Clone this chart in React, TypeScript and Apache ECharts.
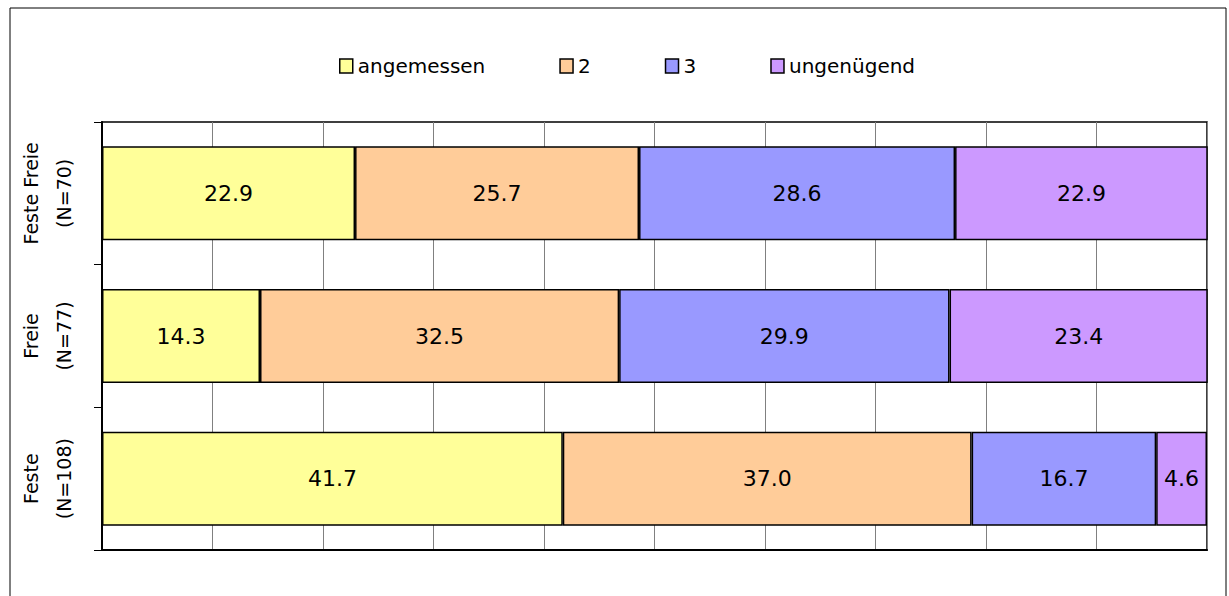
import React, { useEffect, useRef } from "react";
import * as echarts from "echarts";

const categories = ["Feste\n(N=108)", "Freie\n(N=77)", "Feste Freie\n(N=70)"];
const seriesNames = ["angemessen", "2", "3", "ungenügend"];
const angemessen = [41.7, 14.3, 22.9];
const zwei = [37.0, 32.5, 25.7];
const drei = [16.7, 29.9, 28.6];
const ungenuegend = [4.6, 23.4, 22.9];
const colors = ["#FFFF99", "#FFCC99", "#9999FF", "#CC99FF"];

const FONT = "DejaVu Sans";

export default function App() {
  const ref = useRef<HTMLDivElement>(null);
  useEffect(() => {
    if (!ref.current) return;
    const chart = echarts.init(ref.current, undefined, { renderer: "svg" });
    const values = [angemessen, zwei, drei, ungenuegend];
    chart.setOption({
      animation: false,
      backgroundColor: "#fff",
      textStyle: { fontFamily: FONT, color: "#000" },
      graphic: [
        {
          type: "rect",
          shape: { x: 10, y: 8, width: 1216, height: 610 },
          style: { fill: "none", stroke: "#000", lineWidth: 1 },
          silent: true,
        },
      ],
      legend: {
        left: 334,
        top: 51,
        itemGap: 74,
        itemWidth: 13,
        itemHeight: 14,
        icon: "rect",
        textStyle: { fontFamily: FONT, fontSize: 20, color: "#000" },
        itemStyle: { borderColor: "#000", borderWidth: 1.5 },
        data: seriesNames,
      },
      grid: {
        left: 102,
        right: 22,
        top: 122,
        bottom: 46,
        show: true,
        borderColor: "#000",
        borderWidth: 1.5,
        containLabel: false,
      },
      xAxis: {
        type: "value",
        min: 0,
        max: 100,
        interval: 10,
        axisLabel: { show: false },
        axisTick: { show: false },
        axisLine: { show: true, lineStyle: { color: "#000", width: 2 } },
        splitLine: { show: true, lineStyle: { color: "#808080", width: 1 } },
      },
      yAxis: {
        type: "category",
        data: categories,
        axisLine: { show: true, lineStyle: { color: "#000", width: 2 } },
        axisTick: { show: true, length: 8, lineStyle: { color: "#000", width: 1 } },
        axisLabel: {
          rotate: 90,
          margin: 22,
          fontFamily: FONT,
          fontSize: 19,
          color: "#000",
          lineHeight: 33,
          align: "center",
        },
      },
      series: seriesNames.map((name, i) => ({
        name,
        type: "bar",
        stack: "total",
        barWidth: 94,
        data: values[i],
        itemStyle: { color: colors[i], borderColor: "#000", borderWidth: 1.5 },
        label: {
          show: true,
          position: "inside",
          fontFamily: FONT,
          fontSize: 22,
          color: "#000",
          formatter: (p: any) => Number(p.value).toFixed(1),
        },
      })),
    });
    return () => chart.dispose();
  }, []);
  return (
    <div
      ref={ref}
      style={{ position: "fixed", left: 0, top: 0, width: 1229, height: 596 }}
    />
  );
}
